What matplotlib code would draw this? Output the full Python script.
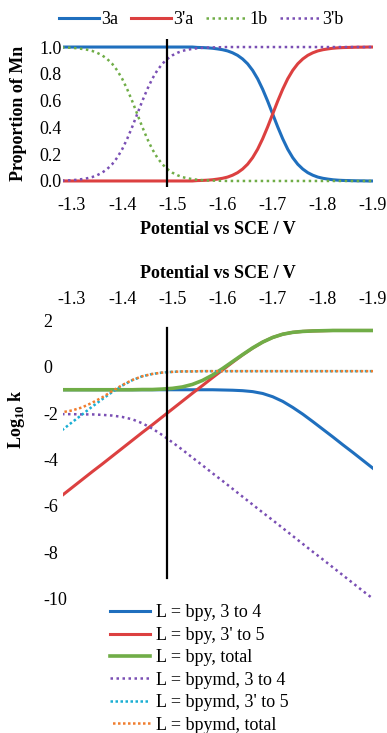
import matplotlib
matplotlib.use('Agg')
import matplotlib.pyplot as plt

plt.rcParams['font.family'] = ['Liberation Serif', 'DejaVu Serif']
plt.rcParams['mathtext.fontset'] = 'custom'
plt.rcParams['mathtext.rm'] = 'Liberation Serif'
plt.rcParams['mathtext.bf'] = 'Liberation Serif:bold'

# ---- top panel: proportion of Mn species (step 0.01 V) ----
potential_top = [round(-1.28 - 0.01 * i, 2) for i in range(63)]

frac_3a = [1.0] * 27 + [
    0.997, 0.996, 0.994, 0.991, 0.986, 0.980, 0.971, 0.957, 0.938, 0.911,
    0.875, 0.826, 0.763, 0.685, 0.596, 0.500,
    0.404, 0.315, 0.237, 0.174, 0.125, 0.089, 0.062, 0.043, 0.029, 0.020,
    0.014, 0.009, 0.006, 0.004, 0.003, 0.002, 0.001, 0.001, 0.000, 0.000]
frac_3pa = [0.0] * 27 + [
    0.003, 0.004, 0.006, 0.009, 0.014, 0.020, 0.029, 0.043, 0.062, 0.089,
    0.125, 0.174, 0.237, 0.315, 0.404, 0.500,
    0.596, 0.685, 0.763, 0.826, 0.875, 0.911, 0.938, 0.957, 0.971, 0.980,
    0.986, 0.991, 0.994, 0.996, 0.997, 0.998, 0.999, 0.999, 1.000, 1.000]
frac_1b = [
    0.997, 0.996, 0.994, 0.991, 0.986, 0.980, 0.971, 0.957, 0.938, 0.911,
    0.875, 0.826, 0.763, 0.685, 0.596, 0.500, 0.404, 0.315, 0.237, 0.174,
    0.125, 0.089, 0.062, 0.043, 0.029, 0.020, 0.014, 0.009, 0.006, 0.004,
    0.003, 0.002, 0.001] + [0.0] * 30
frac_3pb = [
    0.003, 0.004, 0.006, 0.009, 0.014, 0.020, 0.029, 0.043, 0.062, 0.089,
    0.125, 0.174, 0.237, 0.315, 0.404, 0.500, 0.596, 0.685, 0.763, 0.826,
    0.875, 0.911, 0.938, 0.957, 0.971, 0.980, 0.986, 0.991, 0.994, 0.996,
    0.997, 0.998, 0.999] + [1.0] * 30

# ---- bottom panel: log10 k (step 0.02 V) ----
potential_bot = [round(-1.28 - 0.02 * j, 2) for j in range(32)]

bpy_3_4 = [-1.00] * 16 + [
    -1.01, -1.02, -1.04, -1.08, -1.16, -1.30, -1.50, -1.76,
    -2.05, -2.37, -2.70, -3.03, -3.37, -3.70, -4.04, -4.38]
bpy_3p_5 = [
    -5.55, -5.21, -4.87, -4.53, -4.20, -3.86, -3.52, -3.18, -2.84, -2.51,
    -2.17, -1.83, -1.49, -1.15, -0.82, -0.48, -0.15, 0.18, 0.50, 0.79,
    1.05, 1.25, 1.39, 1.47, 1.51, 1.53, 1.54, 1.55, 1.55, 1.55, 1.55, 1.55]
bpy_total = [
    -1.00, -1.00, -1.00, -1.00, -1.00, -1.00, -1.00, -1.00, -0.99, -0.99,
    -0.97, -0.94, -0.88, -0.77, -0.60, -0.37, -0.09, 0.21, 0.51, 0.80,
    1.05, 1.25, 1.39, 1.47, 1.51, 1.53, 1.54, 1.55, 1.55, 1.55, 1.55, 1.55]
bpymd_3_4 = [
    -2.05, -2.05, -2.06, -2.06, -2.08, -2.11, -2.17, -2.27, -2.44, -2.67,
    -2.95, -3.26, -3.58, -3.92, -4.25, -4.59, -4.92, -5.26, -5.60, -5.94,
    -6.28, -6.61, -6.95, -7.29, -7.63, -7.97, -8.30, -8.64, -8.98, -9.32,
    -9.66, -9.99]
bpymd_3p_5 = [
    -2.74, -2.40, -2.07, -1.73, -1.41, -1.10, -0.82, -0.59, -0.42, -0.32,
    -0.26, -0.23, -0.21, -0.21] + [-0.20] * 18
bpymd_total = [
    -1.97, -1.89, -1.76, -1.56, -1.33, -1.06, -0.80, -0.58, -0.42, -0.32,
    -0.26, -0.23, -0.21, -0.21] + [-0.20] * 18

marker_potential = -1.49
marker_logk = [1.66, -9.1]

blue = '#1f6fbe'
red = '#dc4040'
green = '#70ad47'
purple = '#7a4fb4'
cyan = '#19aed3'
orange = '#f07d2e'

W, H = 387, 733
fig = plt.figure(figsize=(W / 100, H / 100), dpi=100)
FS = 13


def frac_box(left, top, right, bottom):
    return [left / W, 1 - bottom / H, (right - left) / W, (bottom - top) / H]


# ---------------- top ----------------
ax1 = fig.add_axes(frac_box(63, 39, 373, 187))
ax1.plot(potential_top, frac_3a, color=blue, lw=2.2, label='3a')
ax1.plot(potential_top, frac_3pa, color=red, lw=2.2, label="3'a")
ax1.plot(potential_top, frac_1b, color=green, lw=1.8, ls=(0, (1, 1.4)), label='1b')
ax1.plot(potential_top, frac_3pb, color=purple, lw=1.8, ls=(0, (1, 1.4)), label="3'b")
ax1.axvline(marker_potential, color='black', lw=1.6)
ax1.set_xlim(-1.282, -1.9)
ax1.set_ylim(-0.045, 1.06)
ax1.set_xticks([-1.3, -1.4, -1.5, -1.6, -1.7, -1.8, -1.9])
ax1.set_xticklabels(['-1.3', '-1.4', '-1.5', '-1.6', '-1.7', '-1.8', '-1.9'])
ax1.set_yticks([0, 0.2, 0.4, 0.6, 0.8, 1.0])
ax1.set_yticklabels(['0.0', '0.2', '0.4', '0.6', '0.8', '1.0'])
ax1.tick_params(axis='both', length=0, labelsize=FS)
ax1.tick_params(axis='y', pad=1)
ax1.tick_params(axis='x', pad=7)
for s in ax1.spines.values():
    s.set_visible(False)
ax1.set_xlabel('Potential vs SCE / V', fontsize=FS, fontweight='bold', labelpad=5)
ax1.set_ylabel('Proportion of Mn', fontsize=FS, fontweight='bold')
ax1.yaxis.set_label_coords(-0.115, 0.5)
fig.legend(*ax1.get_legend_handles_labels(), loc='center', ncol=4,
           bbox_to_anchor=(0.52, 1 - 20 / H), frameon=False, fontsize=FS,
           handlelength=2.2, handletextpad=0.15, columnspacing=0.7)

# ---------------- bottom ----------------
ax2 = fig.add_axes(frac_box(63, 317.7, 373, 603.6))
ax2.plot(potential_bot, bpy_3_4, color=blue, lw=2.2, label='L = bpy, 3 to 4')
ax2.plot(potential_bot, bpy_3p_5, color=red, lw=2.2, label="L = bpy, 3' to 5")
ax2.plot(potential_bot, bpy_total, color=green, lw=2.6, label='L = bpy, total')
ax2.plot(potential_bot, bpymd_3_4, color=purple, lw=1.8, ls=(0, (1, 1.4)),
         label='L = bpymd, 3 to 4')
ax2.plot(potential_bot, bpymd_3p_5, color=cyan, lw=1.8, ls=(0, (1, 1)),
         label="L = bpymd, 3' to 5")
ax2.plot(potential_bot, bpymd_total, color=orange, lw=1.8, ls=(1, (1, 1)),
         label='L = bpymd, total')
ax2.plot([marker_potential, marker_potential], marker_logk, color='black', lw=1.6)
ax2.set_xlim(-1.282, -1.9)
ax2.set_ylim(-10.2, 2.1)
ax2.xaxis.tick_top()
ax2.xaxis.set_label_position('top')
ax2.set_xticks([-1.3, -1.4, -1.5, -1.6, -1.7, -1.8, -1.9])
ax2.set_xticklabels(['-1.3', '-1.4', '-1.5', '-1.6', '-1.7', '-1.8', '-1.9'])
ax2.set_yticks([2, 0, -2, -4, -6, -8, -10])
ax2.set_yticklabels(['2', '0', '-2', '-4', '-6', '-8', '-10'])
ax2.tick_params(axis='both', length=0, labelsize=FS)
ax2.tick_params(axis='x', pad=7)
ax2.tick_params(axis='y', pad=14)
for t in ax2.get_yticklabels():
    t.set_horizontalalignment('left')
for s in ax2.spines.values():
    s.set_visible(False)
ax2.set_xlabel('Potential vs SCE / V', fontsize=FS, fontweight='bold', labelpad=9)
ax2.set_ylabel(r'Log$_{\mathbf{10}}$ k', fontsize=FS, fontweight='bold')
ax2.yaxis.set_label_coords(-0.115, 0.646)
fig.legend(*ax2.get_legend_handles_labels(), loc='upper left', ncol=1,
           bbox_to_anchor=(105 / W, 1 - 599 / H), frameon=False, fontsize=FS,
           handlelength=2.2, handletextpad=0.3, labelspacing=0.3,
           borderaxespad=0, borderpad=0.3)

fig.savefig('out.png', dpi=100)
